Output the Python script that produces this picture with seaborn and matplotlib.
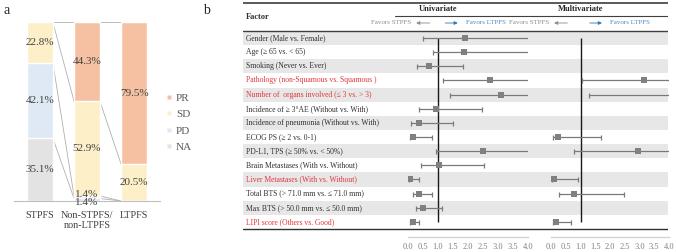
import numpy as np
import pandas as pd
import matplotlib
matplotlib.use("Agg")
import matplotlib.pyplot as plt
from matplotlib.lines import Line2D
import seaborn as sns

# ================= DATA =================
# panel a: best response by PFS group (%)
groups = ["STPFS", "Non-STPFS/\nnon-LTPFS", "LTPFS"]
pr = [0.0, 44.3, 79.5]
sd = [22.8, 52.9, 20.5]
pdis = [42.1, 1.4, 0.0]
na = [35.1, 1.4, 0.0]
resp_names = ["PR", "SD", "PD", "NA"]

# panel b: forest plot (HR, lower, upper)
factors = [
    "Gender (Male vs. Female)",
    "Age (\u2265 65 vs. < 65)",
    "Smoking (Never vs. Ever)",
    "Pathology (non-Squamous vs. Squamous )",
    "Number of  organs involved (\u2264 3 vs. > 3)",
    "Incidence of \u2265 3\u00b0AE (Without vs. With)",
    "Incidence of pneumonia (Without vs. With)",
    "ECOG PS (\u2265 2 vs. 0-1)",
    "PD-L1, TPS (\u2265 50% vs. < 50%)",
    "Brain Metastases (With vs. Without)",
    "Liver Metastases (With vs. Without)",
    "Total BTS (> 71.0 mm vs. \u2264 71.0 mm)",
    "Max BTS (> 50.0 mm vs. \u2264 50.0 mm)",
    "LIPI score (Others vs. Good)",
]
significant = [False, False, False, True, True, False, False,
               False, False, False, True, False, False, True]

uni_hr = [1.9, 1.85, 0.7, 2.73, 3.1, 0.93, 0.35, 0.17, 2.5, 1.03, 0.07, 0.37, 0.5, 0.17]
uni_lo = [0.5, 0.83, 0.3, 1.17, 1.4, 0.37, 0.1, 0.07, 0.93, 0.43, 0.03, 0.17, 0.27, 0.07]
uni_hi = [4.3, 4.3, 1.83, 4.5, 4.6, 2.47, 1.5, 0.8, 4.2, 2.53, 0.37, 0.8, 1.13, 0.37]

nan = np.nan
multi_hr = [nan, nan, nan, 3.15, 4.6, nan, nan, 0.24, 2.95, nan, 0.1, 0.78, nan, 0.17]
multi_lo = [nan, nan, nan, 1.05, 1.29, nan, nan, 0.07, 0.78, nan, 0.03, 0.27, nan, 0.07]
multi_hi = [nan, nan, nan, 5.2, 16.0, nan, nan, 1.7, 4.8, nan, 0.92, 2.47, nan, 0.68]

# ================= STYLE =================
sns.set_style("white")
plt.rcParams["font.family"] = ["Liberation Serif", "DejaVu Serif"]

W, H = 676, 252
fig = plt.figure(figsize=(W / 100, H / 100), dpi=100)


def px_axes(x0, y0, x1, y1):
    return fig.add_axes([x0 / W, 1 - y1 / H, (x1 - x0) / W, (y1 - y0) / H])


resp_colors = {"PR": "#f6c1a2", "SD": "#fdf0c9", "PD": "#dfe9f5", "NA": "#e3e3e3"}
txt_dark = "#404040"

# ================= PANEL A =================
ax = px_axes(14, 22, 160, 201)
seg = pd.DataFrame({"NA": na, "PD": pdis, "SD": sd, "PR": pr}, index=groups)
cum = seg.cumsum(axis=1)
bw = 0.55
for name in ["PR", "SD", "PD", "NA"]:
    sns.barplot(x=groups, y=cum[name].values, color=resp_colors[name],
                width=bw, saturation=1, ax=ax, zorder=2)

# series lines between neighbouring bars
for i in range(len(groups) - 1):
    for name in ["NA", "PD", "SD", "PR"]:
        ax.plot([i + bw / 2, i + 1 - bw / 2], [cum[name].iloc[i], cum[name].iloc[i + 1]],
                color="#b0b0b0", lw=0.6, zorder=1)

# value labels
for i in range(len(groups)):
    for name in ["NA", "PD", "SD", "PR"]:
        v = seg[name].iloc[i]
        if v <= 0:
            continue
        yc = cum[name].iloc[i] - v / 2
        off = 0
        if v < 3:
            off = 2.2 if name == "PD" else -1.7
        ax.annotate(f"{v:.1f}%", (i, yc), xytext=(0, off), textcoords="offset points",
                    ha="center", va="center", fontsize=8, color=txt_dark, zorder=4)

ax.set_xlim(-0.55, 2.55)
ax.set_ylim(0, 100)
ax.set_yticks([])
ax.tick_params(axis="x", length=0, pad=7, labelsize=7.3, labelcolor=txt_dark)
for s in ["top", "right", "left"]:
    ax.spines[s].set_visible(False)
ax.spines["bottom"].set_color("#bfbfbf")
ax.spines["bottom"].set_linewidth(0.8)

handles = [Line2D([], [], marker="s", ls="", ms=3.5, color=resp_colors[n],
                  markeredgecolor="none") for n in resp_names]
fig.legend(handles, resp_names, loc="upper left", bbox_to_anchor=(166 / W, 1 - 93 / H),
           frameon=False, fontsize=8, labelcolor="#595959", handlelength=0.6,
           handletextpad=0.3, labelspacing=0.6, borderpad=0, borderaxespad=0)

fig.text(4 / W, 1 - 10 / H, "a", fontsize=10, va="center", ha="left")
fig.text(203 / W, 1 - 10 / H, "b", fontsize=10, va="center", ha="left")

# ================= PANEL B: TABLE =================
row_top, row_bot = 31, 229
n_rows = len(factors)
rh = (row_bot - row_top) / n_rows


def row_u(px):
    return (px - row_top) / rh - 0.5


tab = px_axes(243, 0, 668, H)
tab.set_xlim(243, 668)
tab.set_ylim(row_u(H), row_u(0))
tab.axis("off")
for i in range(n_rows):
    if i % 2 == 0:
        tab.axhspan(i - 0.5, i + 0.5, color="#e7e7e7", lw=0, zorder=0)
    tab.text(246, i, factors[i], fontsize=5.5, va="center", ha="left",
             color="#e0373b" if significant[i] else "#303030")
tab.plot([243, 668], [row_u(3), row_u(3)], color="#595959", lw=1.4)
tab.plot([395, 668], [row_u(16), row_u(16)], color="#404040", lw=0.8)
tab.plot([243, 668], [-0.5, -0.5], color="#404040", lw=1.0)
tab.plot([243, 668], [n_rows - 0.5, n_rows - 0.5], color="#303030", lw=1.0)
tab.text(246, row_u(17), "Factor", fontsize=6, fontweight="bold", va="center", color="#303030")

# ================= PANEL B: FOREST =================
def forest(x0, x1, hr, lo, hi, title, fav_left, fav_right):
    a = px_axes(x0, row_top, x1, 237)
    a.set_facecolor("none")
    a.set_xlim(0, 4)
    a.set_ylim(row_u(237), -0.5)
    rows = np.arange(n_rows)
    hr = np.array(hr)
    lo = np.array(lo)
    hi = np.array(hi)
    ok = ~np.isnan(hr)
    a.vlines(1, 0, n_rows - 1, color="#1a1a1a", lw=1.0, zorder=2)
    a.errorbar(hr[ok], rows[ok], xerr=[hr[ok] - lo[ok], hi[ok] - hr[ok]], fmt="none",
               ecolor="#7a7a7a", elinewidth=0.9, capsize=1.8, capthick=0.9, zorder=3)
    sns.scatterplot(x=hr[ok], y=rows[ok], marker="s", s=16, color="#808080",
                    linewidth=0, legend=False, ax=a, zorder=4)
    ticks = np.arange(0, 4.01, 0.5)
    a.set_xticks(ticks)
    a.set_xticklabels([f"{t:.1f}" for t in ticks])
    a.set_yticks([])
    a.tick_params(axis="x", length=0, pad=4, labelsize=6, labelcolor="#7f7f7f")
    for s in ["top", "right", "left"]:
        a.spines[s].set_visible(False)
    a.spines["bottom"].set_color("#d4d4d4")
    a.spines["bottom"].set_linewidth(1.0)
    # header
    a.text(1.0, row_u(9.5), title, fontsize=6, fontweight="bold", ha="center",
           va="center", clip_on=False)
    yf = row_u(23)
    a.text(fav_left, yf, "Favors STPFS", fontsize=5, color="#8c8c8c", ha="right",
           va="center", clip_on=False)
    a.text(fav_right, yf, "Favors LTPFS", fontsize=5, color="#4f86c0", ha="left",
           va="center", clip_on=False)
    a.annotate("", xy=(fav_left + 0.08, yf), xytext=(fav_left + 0.72, yf),
               arrowprops=dict(arrowstyle="-|>", color="#8c8c8c", lw=0.6,
                               mutation_scale=5), annotation_clip=False)
    a.annotate("", xy=(fav_right - 0.18, yf), xytext=(fav_right - 0.78, yf),
               arrowprops=dict(arrowstyle="-|>", color="#2e75b6", lw=0.6,
                               mutation_scale=5), annotation_clip=False)
    return a


forest(408, 528, uni_hr, uni_lo, uni_hi, "Univariate", 0.1, 1.93)
forest(551, 669, multi_hr, multi_lo, multi_hi, "Multivariate", -0.07, 2.0)

plt.savefig("out.png", dpi=100)
